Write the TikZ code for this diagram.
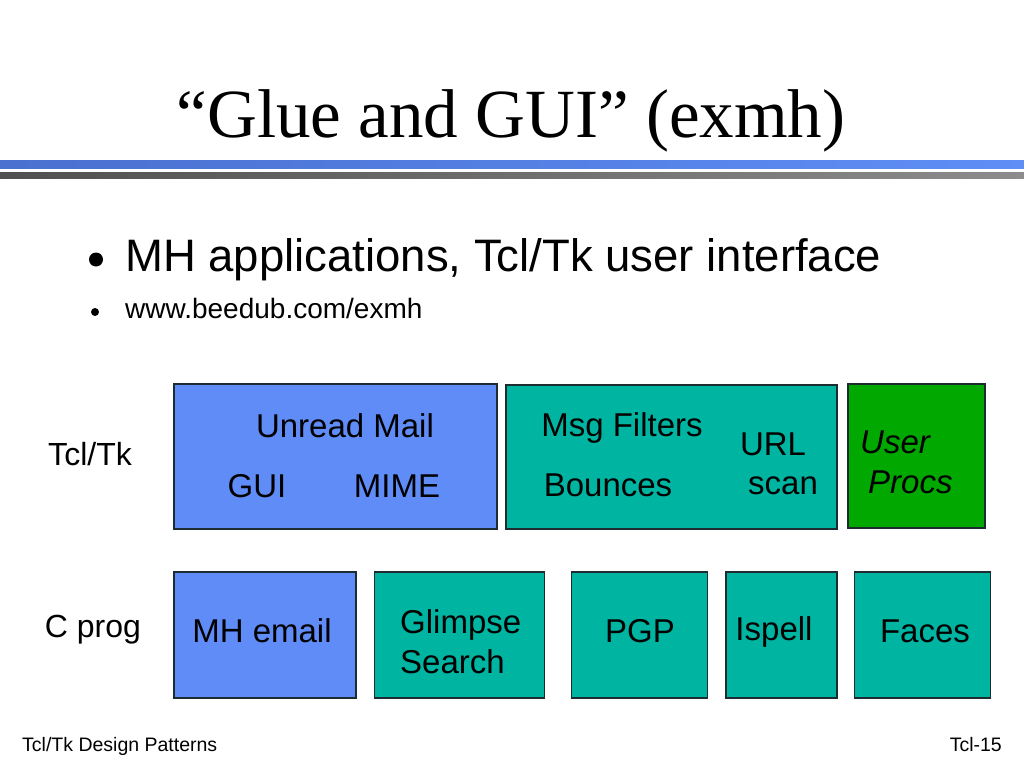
\documentclass[tikz,border=0pt]{standalone}
\usepackage{fontspec}
\setmainfont{Liberation Sans}
\newfontfamily\titlefont[Ligatures=TeX]{Liberation Serif}
\usetikzlibrary{calc, positioning}
\definecolor{tkblue}{HTML}{608CF8}
\definecolor{tkteal}{HTML}{00B4A2}
\definecolor{tkgreen}{HTML}{00A800}
\definecolor{ink}{HTML}{1C2C30}
\definecolor{rulelo}{HTML}{4A70D0}
\definecolor{rulehi}{HTML}{5E8EF6}
\definecolor{greylo}{HTML}{505050}
\definecolor{greyhi}{HTML}{8C8C8C}
\tikzset{
  every picture/.style={line join=miter},
  box/.style={draw=ink, line width=1.3pt, inner sep=0pt, fill=#1},
  txt/.style={font=\fontsize{33}{38}\selectfont, inner sep=0pt, anchor=base},
  side/.style={txt, font=\fontsize{32}{38}\selectfont},
  foot/.style={font=\fontsize{19.5}{23}\selectfont, inner sep=0pt},
}
\begin{document}
\begin{tikzpicture}[x=1pt, y=-1pt, node distance=17pt]
  \useasboundingbox (0,0) rectangle (1024,768);
  % title and rules
  \node[anchor=base, inner sep=0pt, font=\titlefont\fontsize{69}{80}\selectfont] (title)
    at (511,137) {“Glue and GUI” (exmh)};
  \shade[left color=rulelo, right color=rulehi] (0,160) rectangle (1024,168.3);
  \shade[left color=greylo, right color=greyhi] (0,172) rectangle (1024,178);
  % bullets
  \fill (96,259.5) circle (7);
  \node[anchor=base west, inner sep=0pt, font=\fontsize{45.5}{50}\selectfont] (b1)
    at (125,271) {MH applications, Tcl/Tk user interface};
  \fill (95,312) circle (4);
  \node[anchor=base west, inner sep=0pt, font=\fontsize{28}{32}\selectfont] (b2)
    at (125,318) {www.beedub.com/exmh};
  % top row
  \node[box=tkblue, minimum width=323pt, minimum height=145pt] (gui) at (335.5,456.5) {};
  \node[box=tkteal, minimum width=331pt, minimum height=144pt] (filt) at (671.5,457) {};
  \node[box=tkgreen, minimum width=137pt, minimum height=144pt] (user) at (916.5,456) {};
  \node[side] (tcl) at (90,465) {Tcl/Tk};
  \node[txt] (unread) at (345,437) {Unread Mail};
  \node[txt] (guitxt) at (257,497) {GUI};
  \node[txt] (mime) at (397,497) {MIME};
  \node[txt] (msg) at (622,436) {Msg Filters};
  \node[txt] (bounce) at (608,496) {Bounces};
  \node[txt] (url) at (773,455) {URL};
  \node[txt] (scan) at (783,494) {scan};
  \node[txt, anchor=base west, font=\fontsize{33}{38}\selectfont\itshape] (usr) at (860,453) {User};
  \node[txt, anchor=base west, font=\fontsize{33}{38}\selectfont\itshape] (procs) at (868,493) {Procs};
  % bottom row
  \node[box=tkblue, minimum width=182pt, minimum height=126pt] (mh) at (265,635) {};
  \node[box=tkteal, minimum width=170pt, minimum height=126pt, right=of mh] (glimpse) {};
  \node[box=tkteal, minimum width=136pt, minimum height=126pt, right=26pt of glimpse] (pgp) {};
  \node[box=tkteal, minimum width=111pt, minimum height=126pt, right=of pgp] (ispell) {};
  \node[box=tkteal, minimum width=136pt, minimum height=126pt, right=16pt of ispell] (faces) {};
  \node[side] (cprog) at (93,637) {C prog};
  \node[txt] (mhtxt) at (262,642) {MH email};
  \node[txt, anchor=base west] (glim) at (400,633) {Glimpse};
  \node[txt, anchor=base west] (search) at (400,673) {Search};
  \node[txt] (pgptxt) at (640,642) {PGP};
  \node[txt] (spell) at (774,640) {Ispell};
  \node[txt] (face) at (925,642) {Faces};
  % footer
  \node[foot, anchor=base west] (ftl) at (22,751) {Tcl/Tk Design Patterns};
  \node[foot, anchor=base east] (ftr) at (1002,751) {Tcl-15};
\end{tikzpicture}
\end{document}
